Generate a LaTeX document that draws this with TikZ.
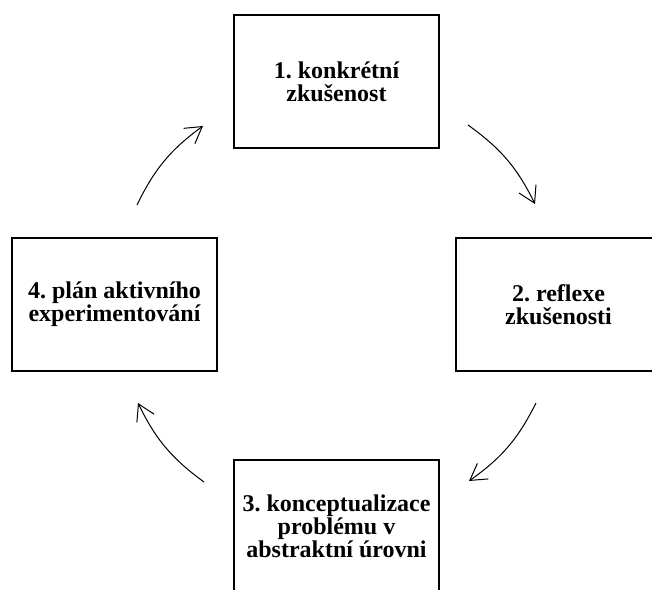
\documentclass[tikz,border=0pt]{standalone}
\usepackage{fontspec}
\setmainfont{Liberation Serif}
\usetikzlibrary{arrows.meta}
\frenchspacing
\begin{document}
\begin{tikzpicture}[x=1pt,y=1pt,
  stage/.style={draw, line width=2.5pt, rectangle, minimum width=205pt, minimum height=133pt,
    align=center, inner sep=0pt, font=\bfseries\fontsize{24}{23}\selectfont},
  cyc/.style={line width=1pt, -{Straight Barb[length=16pt,width=19pt,line width=1pt]}, bend left=14}]
\useasboundingbox (0,0) rectangle (652,589);
\node[stage] (b1) at (336.5,507.5) {1. konkrétní\\zkušenost};
\node[stage] (b2) at (558.5,284.5) {2. reflexe\\zkušenosti};
\node[stage] (b3) at (336.5,62.5) {3. konceptualizace\\problému v\\abstraktní úrovni};
\node[stage] (b4) at (114.5,284.5) {4. plán aktivního\\experimentování};
\coordinate (a1s) at (468,464);
\coordinate (a1e) at (535,385);
\coordinate (a2s) at (536,186);
\coordinate (a2e) at (469,108);
\coordinate (a3s) at (204,107);
\coordinate (a3e) at (138,186);
\coordinate (a4s) at (137,384);
\coordinate (a4e) at (203,463);
\draw[cyc] (a1s) to (a1e);
\draw[cyc] (a2s) to (a2e);
\draw[cyc] (a3s) to (a3e);
\draw[cyc] (a4s) to (a4e);
\end{tikzpicture}
\end{document}
